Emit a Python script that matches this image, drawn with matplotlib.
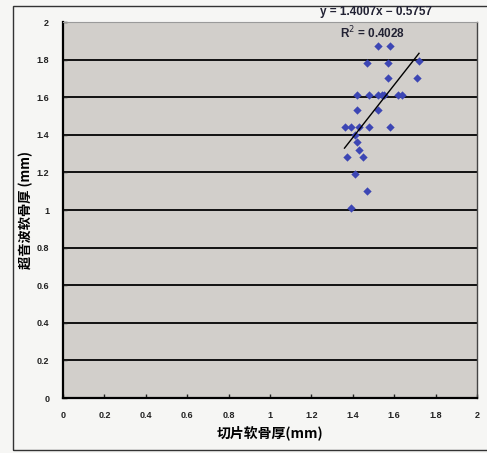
import matplotlib
matplotlib.use('Agg')
import matplotlib.pyplot as plt
from matplotlib.patches import Rectangle
import numpy as np

plt.rcParams['font.family'] = ['Noto Sans CJK SC', 'DejaVu Sans']

# 读图得到的数据
x_vals = [1.52, 1.58, 1.47, 1.57, 1.72, 1.57, 1.71,
          1.42, 1.48, 1.52, 1.54, 1.55, 1.62, 1.64,
          1.42, 1.52,
          1.36, 1.39, 1.43, 1.48, 1.58,
          1.41, 1.42, 1.43, 1.37, 1.45,
          1.41, 1.47, 1.39]
y_vals = [1.87, 1.87, 1.78, 1.78, 1.79, 1.70, 1.70,
          1.61, 1.61, 1.61, 1.61, 1.61, 1.61, 1.61,
          1.53, 1.53,
          1.44, 1.44, 1.44, 1.44, 1.44,
          1.40, 1.36, 1.32, 1.28, 1.28,
          1.19, 1.10, 1.01]
slope = 1.4007
intercept = -0.5757
r2 = 0.4028
tick_vals = [0, 0.2, 0.4, 0.6, 0.8, 1, 1.2, 1.4, 1.6, 1.8, 2]
tick_labels = ['0', '0.2', '0.4', '0.6', '0.8', '1', '1.2', '1.4', '1.6', '1.8', '2']

fig = plt.figure(figsize=(4.87, 4.53), dpi=100, facecolor='#f6f6f4')
ax = fig.add_axes([0.1294, 0.1214, 0.850, 0.830])
ax.set_facecolor('#d2cfcb')

ax.scatter(x_vals, y_vals, marker='D', s=18, color='#3c46b4', zorder=3, linewidths=0)

xs = np.array([min(x_vals), max(x_vals)])
ax.plot(xs, slope * xs + intercept, color='black', lw=1.0, zorder=4)

ax.set_xlim(0, 2)
ax.set_ylim(0, 2)
ax.set_xticks(tick_vals)
ax.set_xticklabels(tick_labels)
ax.set_yticks(tick_vals)
ax.set_yticklabels(tick_labels)
ax.tick_params(axis='both', direction='in', length=3, width=1,
               labelsize=6.5, colors='#222222')
ax.tick_params(axis='x', pad=9)
ax.tick_params(axis='y', pad=10)
for lab in ax.get_xticklabels() + ax.get_yticklabels():
    lab.set_fontweight('bold')
    lab.set_family(['Liberation Sans', 'DejaVu Sans'])

ax.yaxis.grid(True, color='#111111', lw=1.4)
ax.set_axisbelow(True)
ax.spines['left'].set_linewidth(1.6)
ax.spines['bottom'].set_linewidth(1.6)
ax.spines['top'].set_color('#9a9a9a')
ax.spines['top'].set_linewidth(0.8)
ax.spines['right'].set_color('#444444')
ax.spines['right'].set_linewidth(1.0)

ax.set_xlabel('切片软骨厚(mm)', fontsize=10, fontweight='bold', labelpad=4)
ax.set_ylabel('超音波软骨厚 (mm)', fontsize=9.5, fontweight='bold', labelpad=2)

fig.text(0.772, 0.973, 'y = %.4fx − %.4f' % (slope, -intercept), ha='center', va='center',
         fontsize=8.5, fontweight='bold', color='#222233', family=['Liberation Sans', 'DejaVu Sans'])
fig.text(0.765, 0.927, 'R$^2$ = %.4f' % r2, ha='center', va='center',
         fontsize=8.5, fontweight='bold', color='#222233', family=['Liberation Sans', 'DejaVu Sans'])

fig.patches.append(Rectangle((0.027, 0.007), 1.0, 0.980, transform=fig.transFigure,
                             fill=False, edgecolor='#333333', lw=1.0))

fig.savefig('out.png', dpi=100, facecolor=fig.get_facecolor())
